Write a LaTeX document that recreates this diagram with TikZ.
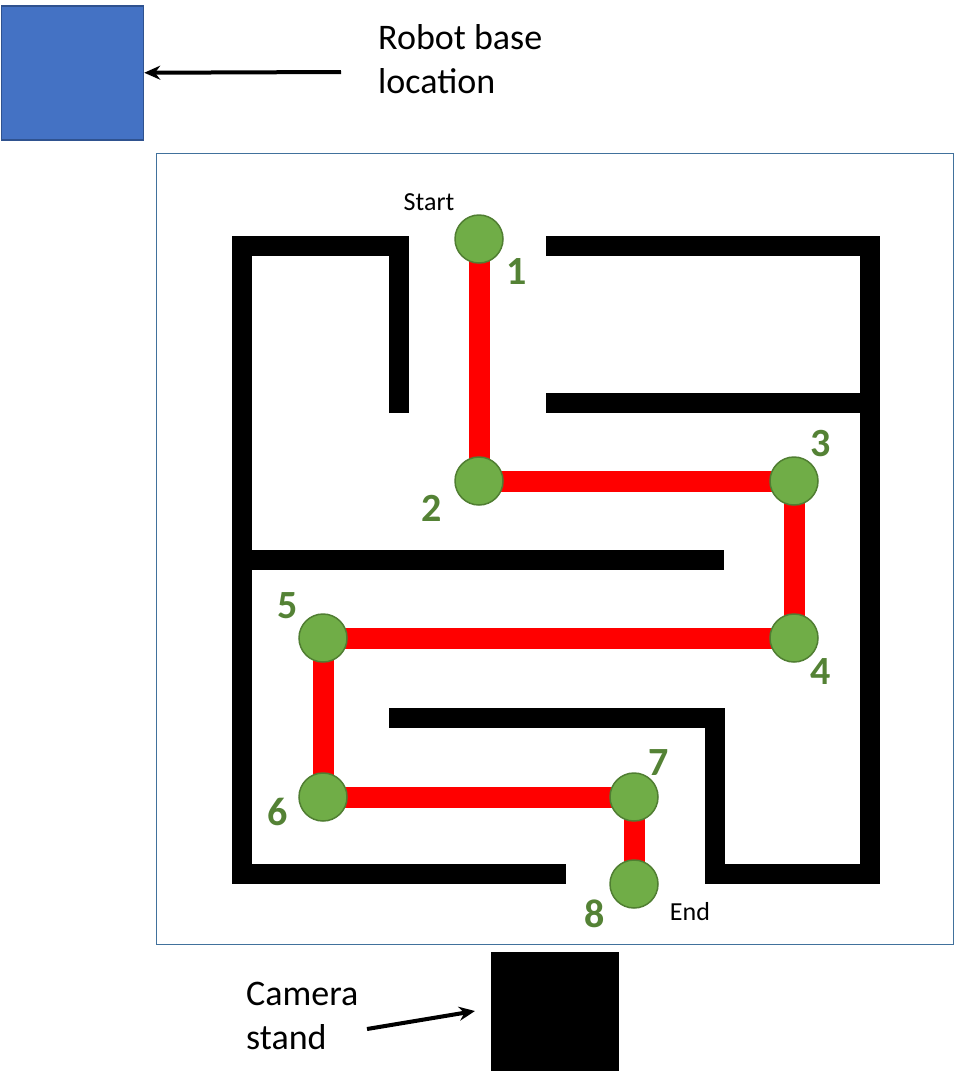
\documentclass[tikz,border=0pt]{standalone}
\usepackage{fontspec}
\setmainfont{Carlito}
\usetikzlibrary{arrows.meta,backgrounds}
\definecolor{basefill}{HTML}{4472C4}
\definecolor{baseline}{HTML}{2F528F}
\definecolor{framecol}{HTML}{41719C}
\definecolor{ptfill}{HTML}{70AD47}
\definecolor{ptline}{HTML}{507E32}
\definecolor{lblgreen}{HTML}{548235}
\begin{document}
\begin{tikzpicture}[x=1pt,y=-1pt,
 wall/.style={line width=20pt,line join=miter,line cap=butt},
 wp/.style={circle,fill=ptfill,draw=ptline,line width=1.5pt,minimum size=48pt,inner sep=0pt},
 num/.style={text=lblgreen,font=\fontsize{40}{48}\selectfont\bfseries,inner sep=0pt},
 smalltxt/.style={font=\fontsize{26}{30}\selectfont,inner sep=0pt},
 bigtxt/.style={font=\fontsize{36}{44}\selectfont,align=left,inner sep=0pt},
 arr/.style={line width=4pt,-{Stealth[length=16pt,width=14pt]}},
 redpath/.style={line width=21pt,draw=red,line join=miter}]
\useasboundingbox (0,0) rectangle (954,1085);

% robot base
\node[fill=basefill,draw=baseline,line width=1.5pt,minimum width=142pt,minimum height=134pt,inner sep=0pt,anchor=north west] (base) at (0.75,5) {};
\node[bigtxt,anchor=north west] (basetxt) at (378,24) {Robot base\\location};
\coordinate (a1) at (341,72);
\draw[arr] (a1) -- (base.east);

% maze frame
\node[draw=framecol,line width=1pt,minimum width=797pt,minimum height=791pt,inner sep=0pt] (maze) at (554.5,548.5) {};

% walls
\draw[wall] (399,413) -- (399,246) -- (242,246) -- (242,874) -- (566,874);
\draw[wall] (546,246) -- (870,246) -- (870,874) -- (715,874) -- (715,718) -- (389,718);
\draw[wall] (546,403) -- (870,403);
\draw[wall] (242,560) -- (724,560);

% waypoints
\node[wp] (n1) at (479,239) {};
\node[wp] (n2) at (479,481) {};
\node[wp] (n3) at (794,481) {};
\node[wp] (n4) at (794,638) {};
\node[wp] (n5) at (323,638) {};
\node[wp] (n6) at (323,797) {};
\node[wp] (n7) at (634,797) {};
\node[wp] (n8) at (634,884) {};

\begin{scope}[on background layer]
\draw[redpath] (n1.center) -- (n2.center) -- (n3.center) -- (n4.center) -- (n5.center) -- (n6.center) -- (n7.center) -- (n8.center);
\end{scope}

% labels
\node[num] (l1) at (517,272) {1};
\node[num] (l2) at (432,508) {2};
\node[num] (l3) at (821,444) {3};
\node[num] (l4) at (821,672) {4};
\node[num] (l5) at (288,606) {5};
\node[num] (l6) at (278,812) {6};
\node[num] (l7) at (659,763) {7};
\node[num] (l8) at (595,914) {8};
\node[smalltxt] (start) at (429,202) {Start};
\node[smalltxt] (end) at (690,912) {End};

% camera stand
\node[fill=black,minimum width=128pt,minimum height=119pt,inner sep=0pt,anchor=north west] (cam) at (491,952) {};
\node[bigtxt,anchor=north west] (camtxt) at (246,982) {Camera\\stand};
\coordinate (a2) at (367,1029);
\draw[arr] (a2) -- (475,1011);
\end{tikzpicture}
\end{document}
